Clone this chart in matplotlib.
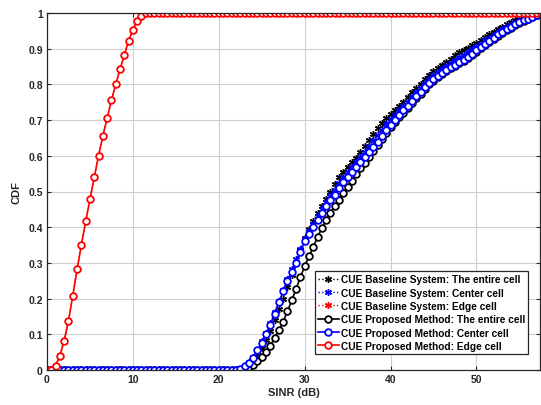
import numpy as np
import matplotlib.pyplot as plt

# SINR sample points (dB), one every 0.5 dB
sinr = np.arange(0, 58, 0.5)

# CDF values, one per SINR sample
edge_cell = [
    0.0, 0.0, 0.012, 0.04, 0.082, 0.138, 0.208, 0.282, 0.35, 0.416,
    0.478, 0.54, 0.6, 0.655, 0.705, 0.755, 0.8, 0.842, 0.882, 0.922,
    0.953, 0.977, 0.992, 1.0, 1.0, 1.0, 1.0, 1.0, 1.0, 1.0,
    1.0, 1.0, 1.0, 1.0, 1.0, 1.0, 1.0, 1.0, 1.0, 1.0,
    1.0, 1.0, 1.0, 1.0, 1.0, 1.0, 1.0, 1.0, 1.0, 1.0,
    1.0, 1.0, 1.0, 1.0, 1.0, 1.0, 1.0, 1.0, 1.0, 1.0,
    1.0, 1.0, 1.0, 1.0, 1.0, 1.0, 1.0, 1.0, 1.0, 1.0,
    1.0, 1.0, 1.0, 1.0, 1.0, 1.0, 1.0, 1.0, 1.0, 1.0,
    1.0, 1.0, 1.0, 1.0, 1.0, 1.0, 1.0, 1.0, 1.0, 1.0,
    1.0, 1.0, 1.0, 1.0, 1.0, 1.0, 1.0, 1.0, 1.0, 1.0,
    1.0, 1.0, 1.0, 1.0, 1.0, 1.0, 1.0, 1.0, 1.0, 1.0,
    1.0, 1.0, 1.0, 1.0, 1.0, 1.0,
]
edge_cell_base = list(edge_cell)
edge_cell_prop = list(edge_cell)

flat_low = [
    0.0, 0.0, 0.0, 0.0, 0.0, 0.0, 0.0, 0.0, 0.0, 0.0,
    0.0, 0.0, 0.0, 0.0, 0.0, 0.0, 0.0, 0.0, 0.0, 0.0,
    0.0, 0.0, 0.0, 0.0, 0.0, 0.0, 0.0, 0.0, 0.0, 0.0,
    0.0, 0.0, 0.0, 0.0, 0.0, 0.0, 0.0, 0.0, 0.0, 0.0,
    0.0, 0.0, 0.0, 0.0,
]

entire_base = flat_low + [
    0.0, 0.004, 0.01, 0.018, 0.03, 0.045, 0.063, 0.085, 0.11, 0.14,
    0.17, 0.2, 0.232, 0.265, 0.3, 0.335, 0.37, 0.395, 0.418, 0.44,
    0.46, 0.48, 0.5, 0.52, 0.54, 0.555, 0.57, 0.582, 0.595, 0.61,
    0.628, 0.645, 0.662, 0.678, 0.692, 0.705, 0.717, 0.728, 0.74, 0.752,
    0.765, 0.778, 0.79, 0.802, 0.815, 0.827, 0.838, 0.847, 0.855, 0.863,
    0.872, 0.881, 0.89, 0.897, 0.903, 0.91, 0.917, 0.924, 0.932, 0.94,
    0.948, 0.955, 0.962, 0.968, 0.974, 0.979, 0.984, 0.988, 0.992, 0.995,
    0.998, 1.0,
]
center_base = flat_low + [
    0.0, 0.004, 0.011, 0.022, 0.037, 0.057, 0.08, 0.105, 0.132, 0.162,
    0.193, 0.224, 0.255, 0.283, 0.31, 0.34, 0.368, 0.39, 0.41, 0.43,
    0.45, 0.47, 0.488, 0.505, 0.523, 0.54, 0.555, 0.568, 0.582, 0.596,
    0.612, 0.627, 0.643, 0.658, 0.673, 0.688, 0.702, 0.714, 0.727, 0.739,
    0.752, 0.765, 0.778, 0.79, 0.803, 0.815, 0.826, 0.835, 0.843, 0.851,
    0.86, 0.868, 0.876, 0.883, 0.89, 0.898, 0.906, 0.914, 0.923, 0.931,
    0.939, 0.947, 0.955, 0.961, 0.967, 0.973, 0.978, 0.983, 0.987, 0.991,
    0.996, 1.0,
]
entire_prop = flat_low + [
    0.0, 0.0, 0.003, 0.008, 0.015, 0.025, 0.037, 0.05, 0.068, 0.09,
    0.112, 0.135, 0.165, 0.195, 0.227, 0.26, 0.29, 0.318, 0.345, 0.372,
    0.398, 0.42, 0.44, 0.46, 0.477, 0.495, 0.512, 0.53, 0.548, 0.565,
    0.58, 0.597, 0.613, 0.63, 0.647, 0.663, 0.68, 0.694, 0.708, 0.721,
    0.734, 0.747, 0.761, 0.774, 0.787, 0.8, 0.81, 0.82, 0.829, 0.837,
    0.845, 0.852, 0.859, 0.866, 0.874, 0.883, 0.892, 0.901, 0.91, 0.918,
    0.927, 0.936, 0.944, 0.952, 0.959, 0.966, 0.972, 0.978, 0.983, 0.988,
    0.994, 1.0,
]
center_prop = flat_low + [
    0.0, 0.003, 0.01, 0.02, 0.035, 0.055, 0.077, 0.1, 0.127, 0.158,
    0.19, 0.22, 0.25, 0.275, 0.3, 0.33, 0.36, 0.38, 0.4, 0.42,
    0.44, 0.46, 0.475, 0.49, 0.51, 0.527, 0.54, 0.555, 0.57, 0.583,
    0.597, 0.61, 0.625, 0.64, 0.655, 0.672, 0.687, 0.7, 0.715, 0.727,
    0.74, 0.753, 0.767, 0.78, 0.793, 0.805, 0.815, 0.823, 0.832, 0.84,
    0.848, 0.855, 0.862, 0.869, 0.877, 0.886, 0.895, 0.905, 0.914, 0.922,
    0.93, 0.94, 0.948, 0.955, 0.962, 0.968, 0.974, 0.979, 0.984, 0.988,
    0.995, 1.0,
]

labels = [
    'CUE Baseline System: The entire cell',
    'CUE Baseline System: Center cell',
    'CUE Baseline System: Edge cell',
    'CUE Proposed Method: The entire cell',
    'CUE Proposed Method: Center cell',
    'CUE Proposed Method: Edge cell',
]

plt.rcParams['font.family'] = ['Liberation Sans', 'DejaVu Sans']
plt.rcParams['font.weight'] = 'bold'

fig = plt.figure(figsize=(5.41, 4.06), dpi=100)
ax = fig.add_axes([47 / 541, 35 / 406, 493 / 541, 357 / 406])

star = (6, 2, 0)  # MATLAB-like asterisk
base_kw = dict(linestyle=':', linewidth=1.0, marker=star, markersize=5, markeredgewidth=1.0)
prop_kw = dict(linestyle='-', linewidth=1.2, marker='o', markersize=4.8,
               markerfacecolor='white', markeredgewidth=1.3)

ax.plot(sinr, entire_base, color='k', label=labels[0], **base_kw)
ax.plot(sinr, center_base, color='b', label=labels[1], **base_kw)
ax.plot(sinr, edge_cell_base, color='r', label=labels[2], **base_kw)
ax.plot(sinr, entire_prop, color='k', label=labels[3], **prop_kw)
ax.plot(sinr, center_prop, color='b', label=labels[4], **prop_kw)
ax.plot(sinr, edge_cell_prop, color='r', label=labels[5], **prop_kw)

ax.set_xlim(0, 57.4)
ax.set_ylim(0, 1)
ax.set_xticks([0, 10, 20, 30, 40, 50])
ax.set_yticks(np.arange(0, 1.01, 0.1))
ax.set_yticklabels(['0', '0.1', '0.2', '0.3', '0.4', '0.5', '0.6', '0.7', '0.8', '0.9', '1'])
ax.grid(True, color='#cfcfcf', linewidth=0.8)
ax.set_axisbelow(True)
ax.tick_params(direction='in', length=3, width=0.8, labelsize=7.5, colors='#262626',
               top=True, right=True, pad=3)
for s in ax.spines.values():
    s.set_color('#262626')
    s.set_linewidth(0.9)

ax.set_xlabel('SINR (dB)', fontsize=8, fontweight='bold', color='#262626', labelpad=2)
ax.set_ylabel('CDF', fontsize=8, fontweight='bold', color='#262626', labelpad=5)

leg = ax.legend(loc='lower right', bbox_to_anchor=(0.976, 0.045), borderaxespad=0,
                fontsize=7.3, handlelength=2.1, handletextpad=0.2, labelspacing=0.33,
                borderpad=0.3, fancybox=False, framealpha=1)
leg.get_frame().set_edgecolor('#262626')
leg.get_frame().set_linewidth(0.9)

fig.savefig('out.png', dpi=100)
